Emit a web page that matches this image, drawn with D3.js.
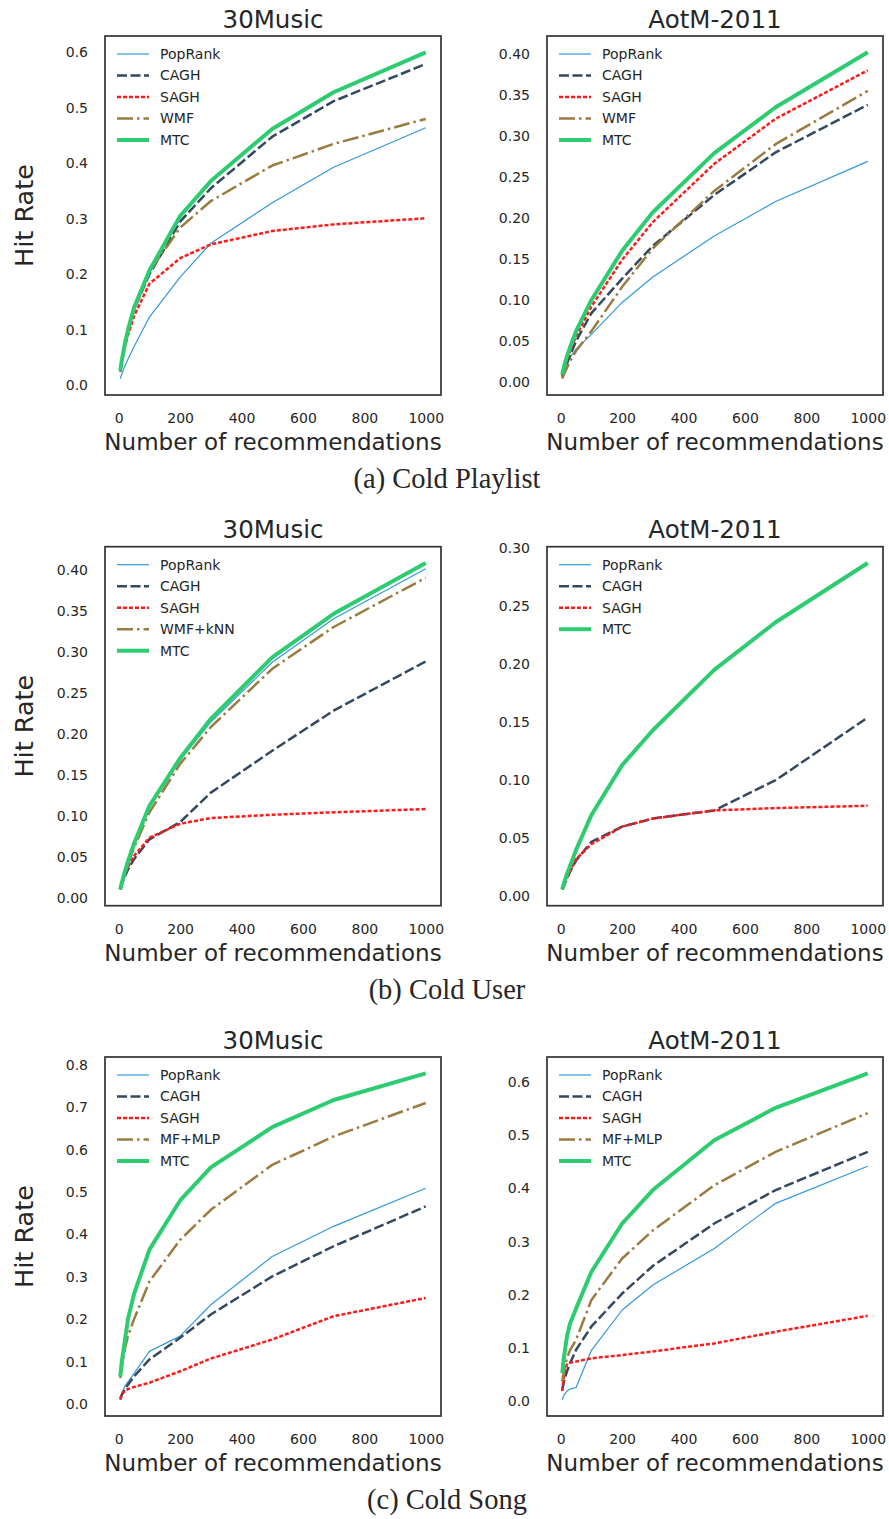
<!DOCTYPE html>
<html>
<head>
<meta charset="utf-8">
<script src="https://cdn.jsdelivr.net/npm/d3@7"></script>
<style>
  body { margin: 0; background: #fff; }
  svg text { font-family: "DejaVu Sans", sans-serif; fill: #262626; }
  svg text.caption { font-family: "Liberation Serif", serif; }
</style>
</head>
<body>
<svg id="fig" width="889" height="1519"></svg>
<script>
// number of recommendations
const ks = [5, 10, 20, 30, 50, 100, 200, 300, 500, 700, 1000];
const xTicks = [0, 200, 400, 600, 800, 1000];

// (a) Cold Playlist - 30Music
const cp30PopRank = [0.012, 0.020, 0.035, 0.047, 0.070, 0.123, 0.195, 0.256, 0.329, 0.393, 0.464];
const cp30CAGH    = [0.025, 0.043, 0.073, 0.097, 0.137, 0.200, 0.295, 0.355, 0.448, 0.512, 0.579];
const cp30SAGH    = [0.025, 0.042, 0.070, 0.090, 0.125, 0.183, 0.229, 0.254, 0.278, 0.290, 0.301];
const cp30WMF     = [0.025, 0.045, 0.075, 0.100, 0.142, 0.205, 0.284, 0.332, 0.396, 0.435, 0.480];
const cp30MTC     = [0.027, 0.045, 0.075, 0.100, 0.140, 0.207, 0.305, 0.368, 0.462, 0.528, 0.600];
const cp30YTicks  = [0, 0.1, 0.2, 0.3, 0.4, 0.5, 0.6];

// (a) Cold Playlist - AotM-2011
const cpAoPopRank = [0.008, 0.013, 0.022, 0.030, 0.040, 0.058, 0.097, 0.128, 0.178, 0.220, 0.269];
const cpAoCAGH    = [0.006, 0.012, 0.022, 0.032, 0.050, 0.084, 0.126, 0.166, 0.228, 0.280, 0.338];
const cpAoSAGH    = [0.007, 0.015, 0.027, 0.037, 0.056, 0.092, 0.149, 0.195, 0.266, 0.321, 0.380];
const cpAoWMF     = [0.004, 0.009, 0.017, 0.025, 0.038, 0.062, 0.116, 0.163, 0.233, 0.290, 0.355];
const cpAoMTC     = [0.009, 0.018, 0.031, 0.042, 0.062, 0.100, 0.160, 0.207, 0.279, 0.335, 0.402];
const cpAoYTicks  = [0, 0.05, 0.1, 0.15, 0.2, 0.25, 0.3, 0.35, 0.4];

// (b) Cold User - 30Music
const cu30PopRank = [0.010, 0.018, 0.032, 0.044, 0.065, 0.110, 0.168, 0.214, 0.287, 0.340, 0.401];
const cu30CAGH    = [0.010, 0.016, 0.026, 0.034, 0.047, 0.071, 0.092, 0.128, 0.179, 0.228, 0.288];
const cu30SAGH    = [0.010, 0.017, 0.028, 0.037, 0.051, 0.073, 0.090, 0.097, 0.101, 0.104, 0.108];
const cu30WMFkNN  = [0.010, 0.017, 0.030, 0.041, 0.061, 0.104, 0.163, 0.208, 0.279, 0.330, 0.390];
const cu30MTC     = [0.010, 0.018, 0.032, 0.044, 0.066, 0.112, 0.170, 0.218, 0.293, 0.346, 0.408];
const cu30YTicks  = [0, 0.05, 0.1, 0.15, 0.2, 0.25, 0.3, 0.35, 0.4];

// (b) Cold User - AotM-2011 (PopRank only appears in the legend)
const cuAoPopRank = [];
const cuAoCAGH    = [0.006, 0.009, 0.015, 0.021, 0.031, 0.047, 0.060, 0.067, 0.074, 0.100, 0.154];
const cuAoSAGH    = [0.006, 0.010, 0.016, 0.022, 0.032, 0.045, 0.060, 0.067, 0.074, 0.076, 0.078];
const cuAoMTC     = [0.006, 0.011, 0.019, 0.026, 0.040, 0.070, 0.113, 0.143, 0.195, 0.236, 0.287];
const cuAoYTicks  = [0, 0.05, 0.1, 0.15, 0.2, 0.25, 0.3];

// (c) Cold Song - 30Music
const cs30PopRank = [0.010, 0.025, 0.042, 0.052, 0.072, 0.124, 0.160, 0.234, 0.348, 0.419, 0.509];
const cs30CAGH    = [0.012, 0.022, 0.035, 0.045, 0.065, 0.105, 0.156, 0.211, 0.301, 0.372, 0.466];
const cs30SAGH    = [0.010, 0.022, 0.031, 0.035, 0.040, 0.050, 0.077, 0.107, 0.152, 0.207, 0.250];
const cs30MFMLP   = [0.061, 0.085, 0.130, 0.160, 0.200, 0.289, 0.387, 0.458, 0.564, 0.631, 0.710];
const cs30MTC     = [0.065, 0.100, 0.150, 0.200, 0.260, 0.364, 0.480, 0.558, 0.653, 0.717, 0.780];
const cs30YTicks  = [0, 0.1, 0.2, 0.3, 0.4, 0.5, 0.6, 0.7, 0.8];

// (c) Cold Song - AotM-2011
const csAoPopRank = [0.002, 0.010, 0.018, 0.022, 0.025, 0.095, 0.171, 0.218, 0.287, 0.372, 0.442];
const csAoCAGH    = [0.021, 0.035, 0.055, 0.070, 0.096, 0.140, 0.202, 0.254, 0.334, 0.397, 0.469];
const csAoSAGH    = [0.018, 0.045, 0.068, 0.072, 0.074, 0.080, 0.086, 0.093, 0.108, 0.130, 0.160];
const csAoMFMLP   = [0.036, 0.055, 0.080, 0.095, 0.115, 0.190, 0.268, 0.321, 0.406, 0.469, 0.542];
const csAoMTC     = [0.052, 0.080, 0.120, 0.145, 0.174, 0.243, 0.334, 0.397, 0.491, 0.552, 0.617];
const csAoYTicks  = [0, 0.1, 0.2, 0.3, 0.4, 0.5, 0.6];

const captions = ["(a) Cold Playlist", "(b) Cold User", "(c) Cold Song"];

// line styles per role
const styles = {
  pop:  { color: "#3498db", width: 1.2, dash: null },
  cagh: { color: "#34495e", width: 2.5, dash: "10,3.5" },
  sagh: { color: "#ff1a1a", width: 2.5, dash: "4,2" },
  base: { color: "#9a7b40", width: 2.5, dash: "16,4,2.5,4" },
  mtc:  { color: "#2ecc71", width: 4,   dash: null }
};

const W = 336, H = 359;
const colX = [105, 547];
const rowY = [36, 546.7, 1057];

const panels = [
  { col: 0, row: 0, title: "30Music", fmt: ".1f", yTicks: cp30YTicks, series: [
    ["PopRank", cp30PopRank, "pop"], ["CAGH", cp30CAGH, "cagh"], ["SAGH", cp30SAGH, "sagh"],
    ["WMF", cp30WMF, "base"], ["MTC", cp30MTC, "mtc"]] },
  { col: 1, row: 0, title: "AotM-2011", fmt: ".2f", yTicks: cpAoYTicks, series: [
    ["PopRank", cpAoPopRank, "pop"], ["CAGH", cpAoCAGH, "cagh"], ["SAGH", cpAoSAGH, "sagh"],
    ["WMF", cpAoWMF, "base"], ["MTC", cpAoMTC, "mtc"]] },
  { col: 0, row: 1, title: "30Music", fmt: ".2f", yTicks: cu30YTicks, series: [
    ["PopRank", cu30PopRank, "pop"], ["CAGH", cu30CAGH, "cagh"], ["SAGH", cu30SAGH, "sagh"],
    ["WMF+kNN", cu30WMFkNN, "base"], ["MTC", cu30MTC, "mtc"]] },
  { col: 1, row: 1, title: "AotM-2011", fmt: ".2f", yTicks: cuAoYTicks, series: [
    ["PopRank", cuAoPopRank, "pop"], ["CAGH", cuAoCAGH, "cagh"], ["SAGH", cuAoSAGH, "sagh"],
    ["MTC", cuAoMTC, "mtc"]] },
  { col: 0, row: 2, title: "30Music", fmt: ".1f", yTicks: cs30YTicks, series: [
    ["PopRank", cs30PopRank, "pop"], ["CAGH", cs30CAGH, "cagh"], ["SAGH", cs30SAGH, "sagh"],
    ["MF+MLP", cs30MFMLP, "base"], ["MTC", cs30MTC, "mtc"]] },
  { col: 1, row: 2, title: "AotM-2011", fmt: ".1f", yTicks: csAoYTicks, series: [
    ["PopRank", csAoPopRank, "pop"], ["CAGH", csAoCAGH, "cagh"], ["SAGH", csAoSAGH, "sagh"],
    ["MF+MLP", csAoMFMLP, "base"], ["MTC", csAoMTC, "mtc"]] }
];

const svg = d3.select("#fig");

function drawPanel(p) {
  const g = svg.append("g")
    .attr("transform", `translate(${colX[p.col]},${rowY[p.row]})`);

  // matplotlib-like 5% margins
  const xPad = (d3.max(ks) - d3.min(ks)) * 0.05;
  const x = d3.scaleLinear()
    .domain([d3.min(ks) - xPad, d3.max(ks) + xPad])
    .range([0, W]);
  const allVals = p.series.flatMap(s => s[1]);
  const [lo, hi] = d3.extent(allVals);
  const yPad = (hi - lo) * 0.05;
  const y = d3.scaleLinear().domain([lo - yPad, hi + yPad]).range([H, 0]);

  // axes (no tick marks, seaborn white style)
  const yAxis = g.append("g")
    .call(d3.axisLeft(y).tickValues(p.yTicks).tickFormat(d3.format(p.fmt))
      .tickSize(0).tickPadding(17));
  const xAxis = g.append("g")
    .attr("transform", `translate(0,${H})`)
    .call(d3.axisBottom(x).tickValues(xTicks).tickFormat(d3.format("d"))
      .tickSize(0).tickPadding(18));
  [yAxis, xAxis].forEach(a => {
    a.select(".domain").remove();
    a.attr("font-family", null).attr("font-size", null);
    a.selectAll("text").style("font-size", "14px").attr("fill", "#262626");
  });

  // lines
  const line = d3.line().x((d, i) => x(ks[i])).y(d => y(d));
  p.series.forEach(([name, vals, role]) => {
    if (!vals.length) return;
    const st = styles[role];
    g.append("path")
      .datum(vals)
      .attr("d", line)
      .attr("fill", "none")
      .attr("stroke", st.color)
      .attr("stroke-width", st.width)
      .attr("stroke-linejoin", "round")
      .attr("stroke-dasharray", st.dash);
  });

  // frame
  g.append("rect")
    .attr("width", W).attr("height", H)
    .attr("fill", "none")
    .attr("stroke", "#333")
    .attr("stroke-width", 1.7);

  // title
  g.append("text")
    .attr("x", W / 2).attr("y", -8.5)
    .attr("text-anchor", "middle")
    .style("font-size", "24.5px")
    .text(p.title);

  // x label
  g.append("text")
    .attr("x", W / 2).attr("y", H + 55)
    .attr("text-anchor", "middle")
    .style("font-size", "23px")
    .text("Number of recommendations");

  // y label only on left column
  if (p.col === 0) {
    g.append("text")
      .attr("transform", `translate(${33 - colX[0]},${H / 2}) rotate(-90)`)
      .attr("text-anchor", "middle")
      .style("font-size", "25.5px")
      .text("Hit Rate");
  }

  // legend
  const leg = g.append("g").attr("transform", "translate(12,18)");
  p.series.forEach(([name, vals, role], i) => {
    const st = styles[role];
    const row = leg.append("g").attr("transform", `translate(0,${i * 21.5})`);
    row.append("line")
      .attr("x1", 0).attr("x2", 32)
      .attr("stroke", st.color)
      .attr("stroke-width", st.width)
      .attr("stroke-dasharray", st.dash);
    row.append("text")
      .attr("x", 43).attr("dy", "0.35em")
      .style("font-size", "14px")
      .text(name);
  });
}

panels.forEach(drawPanel);

// subfigure captions
svg.selectAll("text.caption")
  .data(captions)
  .enter().append("text")
  .attr("class", "caption")
  .attr("x", 447)
  .attr("y", (d, i) => rowY[i] + 452)
  .attr("text-anchor", "middle")
  .style("font-size", "28.5px")
  .text(d => d);
</script>
</body>
</html>
